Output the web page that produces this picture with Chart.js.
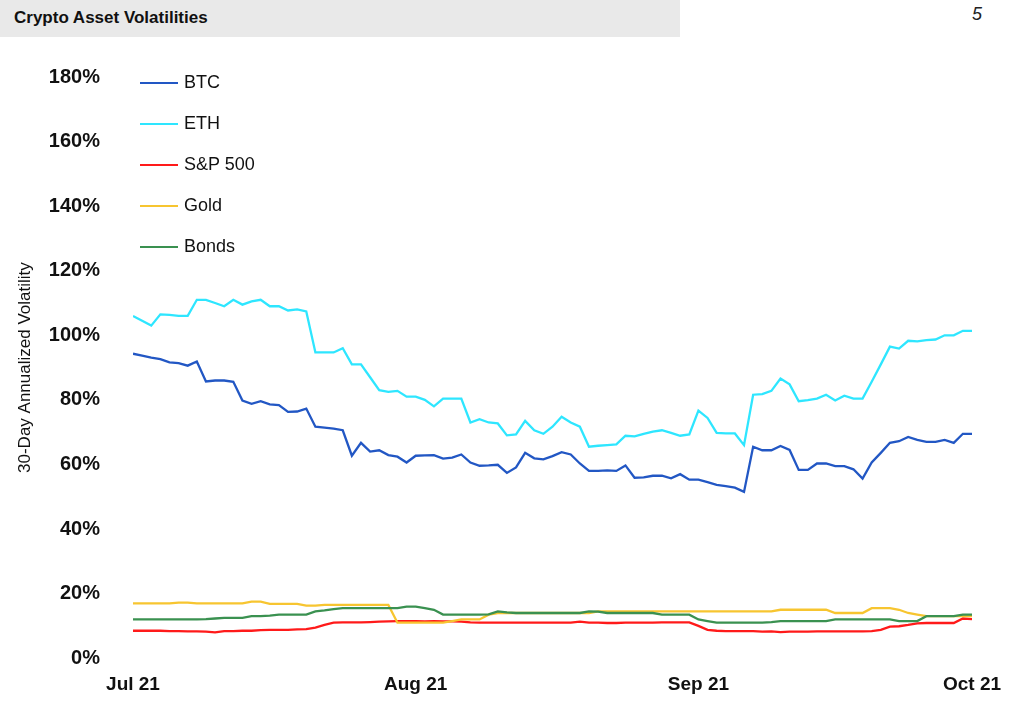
<!DOCTYPE html>
<html>
<head>
<meta charset="utf-8">
<script src="https://cdn.jsdelivr.net/npm/chart.js@4"></script>
<style>
  body { margin: 0; background: #fff; font-family: "Liberation Sans", Arial, sans-serif; }
  #head { position: absolute; left: 0; top: 0; width: 680px; height: 37px; background: #e9e9e9; }
  #head span { position: absolute; left: 14px; top: 8px; font-size: 17px; font-weight: bold; color: #111; }
  #pg { position: absolute; left: 972px; top: 4px; font-size: 18px; font-style: italic; color: #222; }
  #wrap { position: absolute; left: 0; top: 40px; width: 1013px; height: 663px; }
  #legend { position: absolute; left: 140px; top: 62px; font-size: 18px; color: #111; }
  #legend div { height: 41px; display: flex; align-items: center; }
  #legend i { display: inline-block; width: 38px; height: 2px; margin-right: 6px; }
</style>
</head>
<body>
<div id="head"><span>Crypto Asset Volatilities</span></div>
<div id="pg">5</div>
<div id="wrap"><canvas id="myChart"></canvas></div>
<div id="legend"></div>
<script>
// Tick labels for the x axis (day index from Jul 1)
const tickDays = [0, 31, 62, 92];
const tickLabels = ['Jul 21', 'Aug 21', 'Sep 21', 'Oct 21'];

// 30-day annualized volatility, %, one value per day Jul 1 - Oct 1
const btc = [94.3,93.7,93.1,92.6,91.6,91.4,90.6,91.9,85.7,86,86,85.6,79.8,78.8,79.6,78.6,78.4,76.3,76.4,77.3,
  71.7,71.4,71.1,70.6,62.7,66.7,64,64.4,62.9,62.4,60.6,62.7,62.8,62.9,61.8,62.1,63.1,60.6,59.6,59.7,
  59.9,57.4,59.1,63.6,61.9,61.6,62.6,63.8,63.1,60.3,58,58,58.2,58,59.7,55.9,56,56.5,56.5,55.7,
  57,55.3,55.3,54.5,53.7,53.3,52.8,51.5,65.5,64.4,64.4,65.7,64.5,58.3,58.3,60.3,60.3,59.5,59.5,58.5,
  55.6,60.6,63.6,66.7,67.2,68.5,67.6,67,67,67.6,66.7,69.5,69.5];
const eth = [106,104.5,103,106.5,106.3,106,106,111,111,110,109,111,109.5,110.5,111,109,109,107.7,108,107.4,
  94.7,94.7,94.7,96,91,91,87,83,82.5,82.8,81,81,80,78,80.4,80.4,80.4,73,74,73,
  72.7,69,69.3,73.5,70.6,69.5,71.7,74.8,73,71.7,65.5,65.8,66,66.2,68.9,68.7,69.5,70.2,70.6,69.8,
  68.9,69.3,76.7,74.4,69.8,69.6,69.6,66,81.6,81.8,82.8,86.6,84.8,79.6,79.9,80.4,81.6,79.8,81.3,80.4,
  80.4,85.6,91,96.5,95.9,98.3,98.1,98.5,98.7,100,100,101.4,101.4];
const spx = [8.5,8.5,8.5,8.5,8.4,8.4,8.3,8.3,8.2,8,8.4,8.4,8.5,8.5,8.7,8.8,8.8,8.8,8.9,9,
  9.5,10.3,11,11.1,11.1,11.1,11.2,11.3,11.4,11.5,11.5,11.5,11.4,11.5,11.4,11.4,11.3,11.1,11,11,
  11,11,11,11,11,11,11,11,11,11.3,11,11,10.9,10.9,11,11,11,11,11.1,11.1,
  11.1,11.1,10,8.8,8.5,8.4,8.4,8.4,8.4,8.2,8.3,8.1,8.2,8.2,8.2,8.3,8.3,8.3,8.3,8.3,
  8.3,8.4,8.8,9.8,9.9,10.3,10.8,10.9,10.9,10.9,10.9,12.3,12.1];
const gold = [17,17,17,17,17,17.2,17.2,17,17,17,17,17,17,17.5,17.5,16.8,16.8,16.8,16.8,16.3,
  16.3,16.5,16.5,16.5,16.5,16.5,16.5,16.5,16.5,11,11,11,11,11,11,11.5,12,12,12,13.5,
  14,14,14,14,14,14,14,14,14,14,14,14.5,14.5,14.5,14.5,14.5,14.5,14.5,14.5,14.5,
  14.5,14.5,14.5,14.5,14.5,14.5,14.5,14.5,14.5,14.5,14.5,15,15,15,15,15,15,14,14,14,
  14,15.5,15.5,15.5,15,14,13.5,13,13,13,13,13,13];
const bonds = [12,12,12,12,12,12,12,12,12.1,12.3,12.5,12.5,12.5,13,13,13.2,13.5,13.5,13.5,13.5,
  14.5,14.8,15.2,15.5,15.5,15.5,15.5,15.5,15.5,15.5,16,16,15.5,15,13.5,13.5,13.5,13.5,13.5,13.6,
  14.5,14.2,14,14,14,14,14,14,14,14,14.5,14.4,14,14,14,14,14,14,13.5,13.5,
  13.5,13.5,12,11.5,11,11,11,11,11,11,11.2,11.5,11.5,11.5,11.5,11.5,11.5,12,12,12,
  12,12,12,12,11.5,11.5,11.5,13,13,13,13,13.5,13.5];

const series = [
  { label: 'BTC', data: btc, color: '#2257c4' },
  { label: 'ETH', data: eth, color: '#2ee6ff' },
  { label: 'S&P 500', data: spx, color: '#ff1a1a' },
  { label: 'Gold', data: gold, color: '#f7c530' },
  { label: 'Bonds', data: bonds, color: '#3a9150' }
];

// legend in HTML, stacked at the top left
document.getElementById('legend').innerHTML = series.map(s =>
  '<div><i style="background:' + s.color + '"></i>' + s.label + '</div>').join('');

const ctx = document.getElementById('myChart').getContext('2d');
new Chart(ctx, {
  type: 'line',
  data: {
    datasets: series.map(s => ({
      label: s.label,
      data: s.data.map((v, i) => ({ x: i, y: v })),
      borderColor: s.color,
      borderWidth: 2.3,
      pointRadius: 0,
      tension: 0
    })).reverse()
  },
  options: {
    responsive: true,
    maintainAspectRatio: false,
    animation: false,
    layout: { padding: { top: 20, right: 41, left: 15, bottom: 0 } },
    plugins: { legend: { display: false }, tooltip: { enabled: false } },
    scales: {
      x: {
        type: 'linear', min: 0, max: 92,
        grid: { display: false }, border: { display: false },
        afterBuildTicks: axis => { axis.ticks = tickDays.map(v => ({ value: v })); },
        ticks: {
          autoSkip: false, maxRotation: 0, color: '#111', padding: 7,
          font: { size: 19, weight: 'bold', family: 'Liberation Sans' },
          callback: v => tickLabels[tickDays.indexOf(v)]
        }
      },
      y: {
        min: 0, max: 180,
        grid: { display: false }, border: { display: false },
        afterFit: axis => { axis.width = 118; },
        ticks: {
          stepSize: 20, color: '#111', padding: 25,
          font: { size: 20, weight: 'bold', family: 'Liberation Sans' },
          callback: v => v + '%'
        },
        title: {
          display: true, text: '30-Day Annualized Volatility', color: '#111',
          font: { size: 17, family: 'Liberation Sans' }, padding: 0
        }
      }
    }
  }
});
</script>
</body>
</html>
